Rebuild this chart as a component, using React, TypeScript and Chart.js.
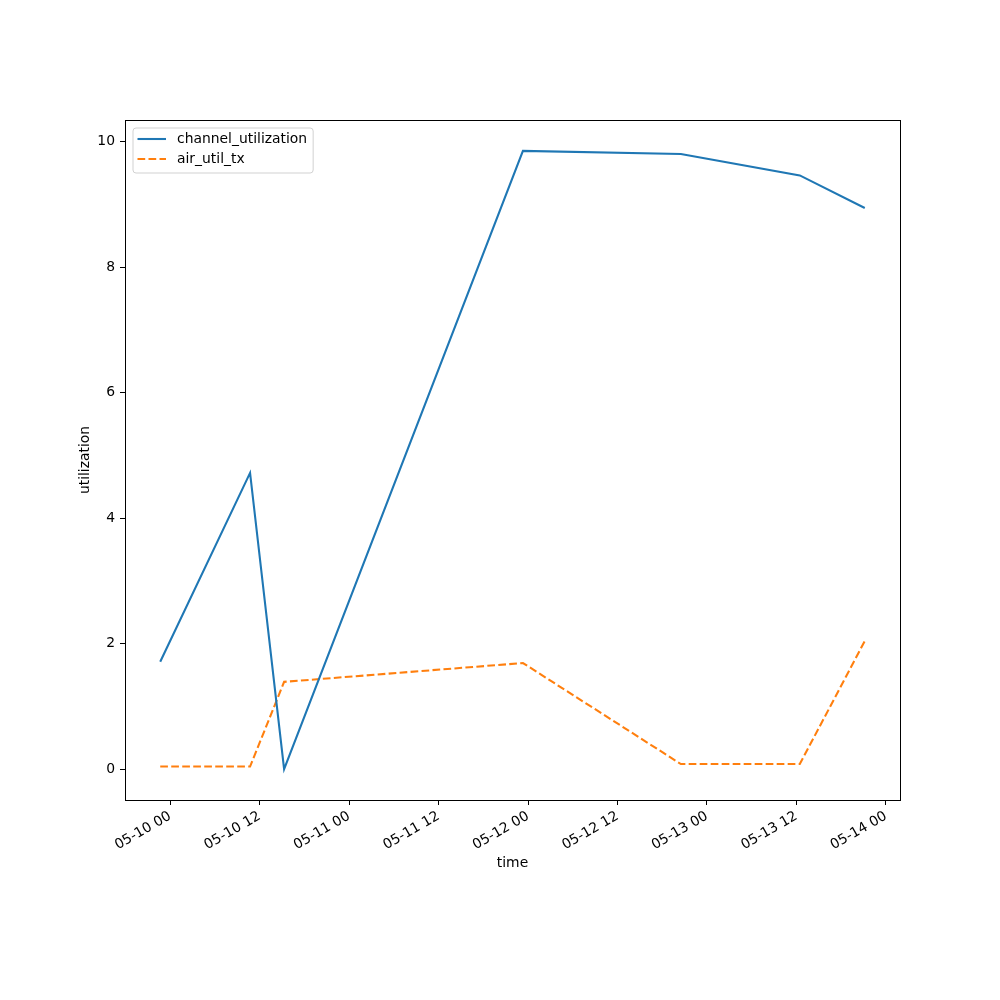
import React, { useEffect, useRef } from "react";
import { Chart, registerables } from "chart.js";

Chart.register(...registerables);

// ---- Data ----
const times = [
  "05-09 22:40",
  "05-10 10:43",
  "05-10 15:17",
  "05-11 23:19",
  "05-12 20:30",
  "05-13 12:27",
  "05-13 21:10",
];
const channelUtilization = [1.71, 4.72, 0.0, 9.85, 9.8, 9.46, 8.94];
const airUtilTx = [0.04, 0.04, 1.39, 1.69, 0.08, 0.08, 2.04];
const xTickLabels = [
  "05-10 00",
  "05-10 12",
  "05-11 00",
  "05-11 12",
  "05-12 00",
  "05-12 12",
  "05-13 00",
  "05-13 12",
  "05-14 00",
];
const yTicks = [0, 2, 4, 6, 8, 10];
const seriesNames = ["channel_utilization", "air_util_tx"];

// hours relative to 05-10 00:00
function toHours(s: string): number {
  const [md, hm] = s.split(" ");
  const day = parseInt(md.split("-")[1], 10);
  const parts = hm.split(":");
  const h = parseInt(parts[0], 10);
  const m = parts.length > 1 ? parseInt(parts[1], 10) : 0;
  return (day - 10) * 24 + h + m / 60;
}

const FONT = "'DejaVu Sans', sans-serif";
const FS = 13.9;
const BLUE = "#1f77b4";
const ORANGE = "#ff7f0e";

export default function App() {
  const ref = useRef<HTMLCanvasElement | null>(null);

  useEffect(() => {
    document.body.style.margin = "0";
    const canvas = ref.current!;
    const xs = times.map(toHours);
    const tickHours = xTickLabels.map(toHours);
    const labelFor = new Map<number, string>();
    tickHours.forEach((h, i) => labelFor.set(h, xTickLabels[i]));

    const xMin = Math.min(...xs);
    const xMax = Math.max(...xs);
    const xPad = (xMax - xMin) * 0.05;
    const allY = [...channelUtilization, ...airUtilTx];
    const yMinD = Math.min(...allY);
    const yMaxD = Math.max(...allY);
    const yPad = (yMaxD - yMinD) * 0.05;

    const decor = {
      id: "decor",
      afterDraw(chart: any) {
        const ctx = chart.ctx as CanvasRenderingContext2D;
        const a = chart.chartArea;
        ctx.save();
        // frame
        ctx.strokeStyle = "#000";
        ctx.lineWidth = 1;
        ctx.strokeRect(Math.round(a.left) + 0.5, Math.round(a.top) + 0.5, Math.round(a.right - a.left), Math.round(a.bottom - a.top));

        // axis titles
        ctx.fillStyle = "#000";
        ctx.font = `${FS}px ${FONT}`;
        ctx.textAlign = "center";
        ctx.textBaseline = "middle";
        ctx.fillText("time", (a.left + a.right) / 2, a.bottom + 63);
        ctx.save();
        ctx.translate(a.left - 40, (a.top + a.bottom) / 2);
        ctx.rotate(-Math.PI / 2);
        ctx.fillText("utilization", 0, 0);
        ctx.restore();

        // legend
        const bx = a.left + 8;
        const by = a.top + 8;
        const textX = bx + 44;
        let maxW = 0;
        seriesNames.forEach((n) => (maxW = Math.max(maxW, ctx.measureText(n).width)));
        const bw = textX - bx + maxW + 6;
        const bh = 45;
        ctx.beginPath();
        const r = 3;
        ctx.moveTo(bx + r, by);
        ctx.lineTo(bx + bw - r, by);
        ctx.arcTo(bx + bw, by, bx + bw, by + r, r);
        ctx.lineTo(bx + bw, by + bh - r);
        ctx.arcTo(bx + bw, by + bh, bx + bw - r, by + bh, r);
        ctx.lineTo(bx + r, by + bh);
        ctx.arcTo(bx, by + bh, bx, by + bh - r, r);
        ctx.lineTo(bx, by + r);
        ctx.arcTo(bx, by, bx + r, by, r);
        ctx.closePath();
        ctx.fillStyle = "rgba(255,255,255,0.8)";
        ctx.fill();
        ctx.strokeStyle = "rgba(204,204,204,0.9)";
        ctx.lineWidth = 1;
        ctx.stroke();

        const rows = [
          { name: seriesNames[0], color: BLUE, dash: [] as number[] },
          { name: seriesNames[1], color: ORANGE, dash: [7.7, 3.3] },
        ];
        rows.forEach((row, i) => {
          const yy = by + 11 + i * 20;
          ctx.beginPath();
          ctx.setLineDash(row.dash);
          ctx.strokeStyle = row.color;
          ctx.lineWidth = 2.08;
          ctx.moveTo(bx + 4.5, yy);
          ctx.lineTo(bx + 33, yy);
          ctx.stroke();
          ctx.setLineDash([]);
          ctx.fillStyle = "#000";
          ctx.textAlign = "left";
          ctx.textBaseline = "middle";
          ctx.fillText(row.name, textX, yy);
        });
        ctx.restore();
      },
    };

    const chart = new Chart(canvas, {
      type: "line",
      data: {
        datasets: [
          {
            label: seriesNames[0],
            data: xs.map((x, i) => ({ x, y: channelUtilization[i] })),
            borderColor: BLUE,
            backgroundColor: BLUE,
            borderWidth: 2.08,
            pointRadius: 0,
            tension: 0,
            fill: false,
          },
          {
            label: seriesNames[1],
            data: xs.map((x, i) => ({ x, y: airUtilTx[i] })),
            borderColor: ORANGE,
            backgroundColor: ORANGE,
            borderWidth: 2.08,
            borderDash: [7.7, 3.3],
            pointRadius: 0,
            tension: 0,
            fill: false,
          },
        ],
      },
      options: {
        animation: false,
        responsive: false,
        devicePixelRatio: 1,
        layout: { padding: { top: 120, right: 100, left: 0, bottom: 0 } },
        plugins: { legend: { display: false }, tooltip: { enabled: false } },
        scales: {
          x: {
            type: "linear",
            min: xMin - xPad,
            max: xMax + xPad,
            afterFit: (s: any) => {
              s.height = 200;
            },
            afterBuildTicks: (s: any) => {
              s.ticks = tickHours.map((v) => ({ value: v }));
            },
            ticks: {
              autoSkip: false,
              minRotation: 30,
              maxRotation: 30,
              padding: 3,
              color: "#000",
              font: { family: FONT, size: FS },
              callback: (v: any) => labelFor.get(Number(v)) ?? "",
            },
            grid: {
              display: true,
              drawOnChartArea: false,
              drawTicks: true,
              tickLength: 5,
              color: "#000",
              lineWidth: 1,
            },
            border: { display: true, color: "#000", width: 1 },
          },
          y: {
            type: "linear",
            min: yMinD - yPad,
            max: yMaxD + yPad,
            afterFit: (s: any) => {
              s.width = 125;
            },
            afterBuildTicks: (s: any) => {
              s.ticks = yTicks.map((v) => ({ value: v }));
            },
            ticks: {
              autoSkip: false,
              padding: 5,
              color: "#000",
              font: { family: FONT, size: FS },
              callback: (v: any) => String(v),
            },
            grid: {
              display: true,
              drawOnChartArea: false,
              drawTicks: true,
              tickLength: 5,
              color: "#000",
              lineWidth: 1,
            },
            border: { display: true, color: "#000", width: 1 },
          },
        },
      },
      plugins: [decor],
    } as any);

    return () => chart.destroy();
  }, []);

  return (
    <div style={{ width: 1000, height: 1000, background: "#fff" }}>
      <canvas ref={ref} width={1000} height={1000} style={{ width: 1000, height: 1000, display: "block" }} />
    </div>
  );
}
